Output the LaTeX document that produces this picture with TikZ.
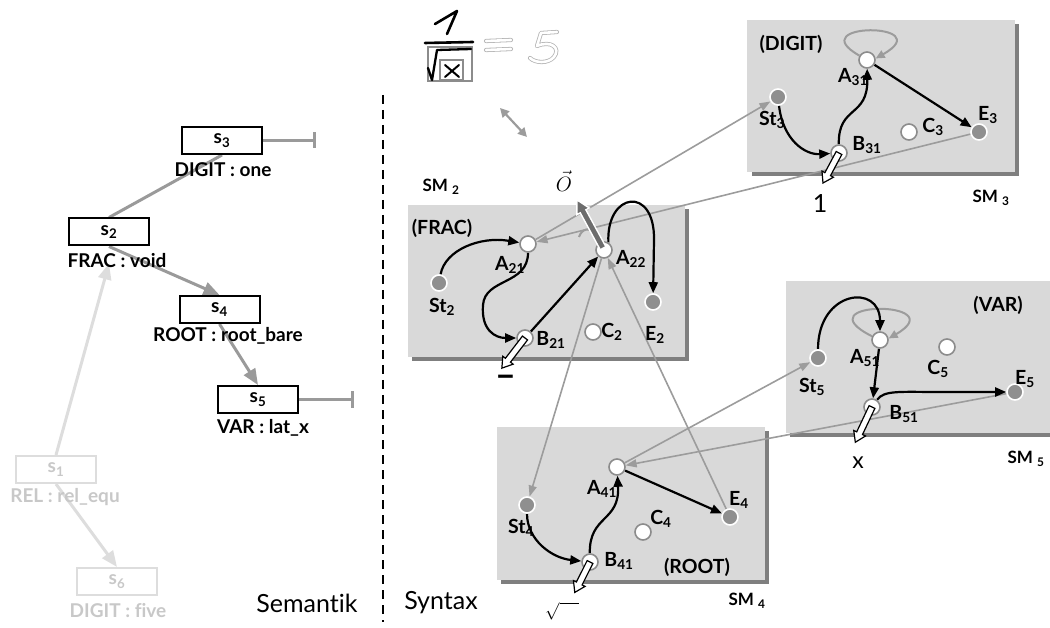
\documentclass[tikz,border=0pt]{standalone}
\usepackage{fontspec}
\setmainfont{Lato}[Ligatures=NoCommon]
\usetikzlibrary{arrows.meta,calc}
\definecolor{tgray}{HTML}{9A9A9A}
\definecolor{lgray}{HTML}{DDDDDD}
\definecolor{ltext}{HTML}{C8C8C8}
\definecolor{cgray}{HTML}{9C9C9C}
\definecolor{sgray}{HTML}{8F8F8F}
\definecolor{bgray}{HTML}{8C8C8C}
\definecolor{boxg}{HTML}{D9D9D9}
\definecolor{shad}{HTML}{7F7F7F}
\definecolor{ogray}{HTML}{6D6D6D}
\definecolor{fgray}{HTML}{B4B4B4}
\pgfdeclarelayer{bg}
\pgfdeclarelayer{mid}
\pgfdeclarelayer{fg}
\pgfsetlayers{bg,mid,main,fg}
\newcommand{\lbsub}[2]{#1\textsubscript{#2}}
\newcommand{\hollowarr}[3]{%
  \begin{scope}[shift={(#1)},rotate=#2]
    \draw[hollow] (0,-3.2)--({#3-10},-3.2)--({#3-10},-6.5)--(#3,0)--({#3-10},6.5)--({#3-10},3.2)--(0,3.2)--cycle;
  \end{scope}}
\begin{document}
\begin{tikzpicture}[x=1pt,y=-1pt,
  sbox/.style={draw=black,line width=2pt,fill=white,minimum width=80pt,minimum height=27pt,inner sep=0pt,font=\bfseries\fontsize{19}{19}\selectfont},
  sboxl/.style={sbox,draw=lgray,text=ltext},
  tlbl/.style={inner sep=0pt,font=\bfseries\fontsize{19}{19}\selectfont},
  tlbll/.style={tlbl,text=ltext},
  tline/.style={draw=tgray,line width=3pt},
  tarr/.style={tline,-{Triangle[length=16pt,width=13pt]}},
  tarrl/.style={tarr,draw=lgray},
  wst/.style={circle,draw=bgray,line width=1.6pt,fill=white,minimum size=16pt,inner sep=0pt},
  gst/.style={circle,draw=white,line width=1.6pt,fill=sgray,minimum size=16pt,inner sep=0pt},
  slbl/.style={inner sep=0pt,font=\bfseries\fontsize{19.5}{19.5}\selectfont},
  smlbl/.style={inner sep=0pt,font=\bfseries\fontsize{17}{17}\selectfont},
  garr/.style={draw=cgray,line width=1.6pt,-{Triangle[length=11pt,width=8pt]}},
  barr/.style={draw=black,line width=2.2pt,-{Triangle[length=11pt,width=9pt]}},
  loopg/.style={draw=cgray,line width=2pt,-{Triangle[length=9pt,width=8pt]}},
  hollow/.style={draw=black,line width=1.2pt,fill=white},
  outl/.style={draw=fgray,double=white,double distance=2.6pt,line width=0.8pt,line cap=round,line join=round},
  big/.style={inner sep=0pt,font=\fontsize{25}{25}\selectfont},
]
\useasboundingbox (0,0) rectangle (1050,628);

% ---------------- boxes (background) ----------------
\begin{pgfonlayer}{bg}
  \fill[shad] (752,24) rectangle (1019,176);
  \fill[boxg] (747,20) rectangle (1015,172);
  \fill[shad] (412,209) rectangle (689,361);
  \fill[boxg] (408,205) rectangle (685,357);
  \fill[shad] (790,285) rectangle (1050,437);
  \fill[boxg] (786,281) rectangle (1050,433);
  \fill[shad] (501,431) rectangle (769,584);
  \fill[boxg] (497,427) rectangle (765,580);
\end{pgfonlayer}

% ---------------- left: semantic tree ----------------
\node[sbox] (s3) at (222,140.5) {s\textsubscript{3}};
\node[tlbl] (l3) at (223,170) {DIGIT : one};
\node[sbox] (s2) at (109,232) {s\textsubscript{2}};
\node[tlbl] (l2) at (117,261) {FRAC : void};
\node[sbox] (s4) at (219.5,309.5) {s\textsubscript{4}};
\node[tlbl] (l4) at (228,336) {ROOT : root\_bare};
\node[sbox] (s5) at (258,399.5) {s\textsubscript{5}};
\node[tlbl] (l5) at (263,428) {VAR : lat\_x};
\node[sboxl] (s1) at (56,469.5) {s\textsubscript{1}};
\node[tlbll] (l1) at (65,497) {REL : rel\_equ};
\node[sboxl] (s6) at (117,581.5) {s\textsubscript{6}};
\node[tlbll] (l6) at (118,611) {DIGIT : five};
\coordinate (bar3) at (316,140.5);
\coordinate (bar5) at (354,399.5);

\begin{pgfonlayer}{mid}
  \draw[tline] (s2.north) -- (s3.south);
  \draw[tarr] (s2.south) -- (s4.north);
  \draw[tarr] (s4.south) -- (s5.north);
  \draw[tarrl] (s1.north) -- ([yshift=-17pt]s2.south);
  \draw[tarrl] (s1.south) -- (s6.north);
  \draw[tline,-{Bar[width=16pt]}] (s3.east) -- (bar3);
  \draw[tline,-{Bar[width=16pt]}] (s5.east) -- (bar5);
\end{pgfonlayer}

\node[big] (sem) at (307,603) {Semantik};
\node[big] (syn) at (441,603) {Syntax};

% dashed divider
\coordinate (dtop) at (383,95);
\coordinate (dbot) at (383,622);
\draw[black,line width=2pt,dash pattern=on 9pt off 6pt] (dtop) -- (dbot);

% ---------------- handwritten formula ----------------
\draw[black,line width=2.6pt,line cap=round,line join=round] (435,24) -- (457,11) -- (447,34);
\draw[black,line width=2.6pt,line cap=round] (425,43) -- (473,42);
\draw[bgray,line width=1.8pt] (428,47) rectangle (472,81);
\draw[bgray,line width=1.5pt] (440,60) rectangle (463,80);
\draw[black,line width=2.3pt,line cap=round,line join=round] (428,68) -- (432,80) -- (437,50) -- (471,49);
\draw[black,line width=2pt,line cap=round] (445,65) -- (459,77) (445,77) -- (459,65);
\draw[outl] (486,41) -- (511,40);
\draw[outl] (486,50) -- (511,49);
\draw[outl] (557,32) -- (541,33) -- (537,46) .. controls (551,40) and (561,48) .. (554,57) .. controls (548,64) and (535,63) .. (530,58);
\coordinate (da1) at (500,108);
\coordinate (da2) at (527,137);
\draw[draw=cgray,line width=2.2pt,{Triangle[length=9pt,width=9pt]}-{Triangle[length=9pt,width=9pt]}] (da1) -- (da2);

% ---------------- state nodes ----------------
% SM3
\node[gst] (St3) at (778,97) {};
\node[wst] (A31) at (867,60) {};
\node[wst] (B31) at (839,153) {};
\node[wst] (C3) at (909,132) {};
\node[gst] (E3) at (979,132) {};
% SM2
\node[wst] (A21) at (528,244) {};
\node[gst] (St2) at (439,283) {};
\node[wst] (A22) at (604,250) {};
\node[wst] (B21) at (525,338) {};
\node[wst] (C2) at (593,332) {};
\node[gst] (E2) at (653,302) {};
% SM5
\node[gst] (St5) at (818,358) {};
\node[wst] (A51) at (880,340) {};
\node[wst] (C5) at (947,347) {};
\node[gst] (E5) at (1015,392) {};
\node[wst] (B51) at (872,407) {};
% SM4
\node[gst] (St4) at (527,505) {};
\node[wst] (A41) at (617,467) {};
\node[wst] (C4) at (643,532) {};
\node[gst] (E4) at (730,517) {};
\node[wst] (B41) at (590,562) {};

% ---------------- connectors ----------------
\begin{pgfonlayer}{mid}
  % gray inter-machine connectors
  \draw[garr] (A21) -- (St3);
  \draw[garr] (E3) -- (A21);
  \draw[garr] (A22) -- (St4);
  \draw[garr] (E4) -- (A22);
  \draw[garr] (A41) -- (St5);
  \draw[garr] (E5) -- (A41);
  % self loops
  \draw[loopg] (A31.150) .. controls (800,22) and (940,22) .. (A31.10);
  \draw[loopg] (A51.155) .. controls (800,300) and (955,300) .. (A51.10);
  \draw[cgray,line width=2pt] (579,237) .. controls (582,228) and (590,228) .. (594,232);
  % SM3
  \draw[barr] (St3) .. controls (783,140) and (805,155) .. (B31);
  \draw[barr] (B31) .. controls (838,105) and (868,118) .. (A31);
  \draw[barr] (A31) -- (E3);
  % SM2
  \draw[barr] (St2) .. controls (445,250) and (480,236) .. (A21);
  \draw[barr] (A21) .. controls (528,285) and (485,278) .. (483,305) .. controls (481,330) and (495,338) .. (B21);
  \draw[barr] (B21) -- (A22);
  \draw[barr] (A22.60) .. controls (606,192) and (655,185) .. (654,240) -- (E2);
  % SM4
  \draw[barr] (St4) .. controls (527,540) and (552,558) .. (B41);
  \draw[barr] (B41) .. controls (589,515) and (620,522) .. (A41);
  \draw[barr] (A41) -- (E4);
  % SM5
  \draw[barr] (St5) .. controls (818,290) and (880,283) .. (A51);
  \draw[barr] (A51) -- (B51);
  \draw[barr] (B51) .. controls (884,390) and (900,392) .. (940,392) -- (E5);
\end{pgfonlayer}

% ---------------- output arrows ----------------
\begin{pgfonlayer}{fg}
  \hollowarr{B31}{241.9}{34}
  \hollowarr{B21}{232.5}{38}
  \hollowarr{B41}{243.4}{34}
  \hollowarr{B51}{244.7}{39}
  \begin{scope}[shift={(A22)},rotate=118.4]
    \draw[fill=ogray,draw=white,line width=1.4pt] (2,-3.2)--(44,-3.2)--(44,-7)--(57,0)--(44,7)--(44,3.2)--(2,3.2)--cycle;
  \end{scope}
\end{pgfonlayer}

% ---------------- labels ----------------
\node[slbl] (lDIGIT) at (791,44) {(DIGIT)};
\node[slbl] (lA31) at (853,77) {\lbsub{A}{31}};
\node[slbl] (lSt3) at (772,120) {\lbsub{St}{3}};
\node[slbl] (lB31) at (867,145) {\lbsub{B}{31}};
\node[slbl] (lC3) at (933,127) {\lbsub{C}{3}};
\node[slbl] (lE3) at (988,115) {\lbsub{E}{3}};
\node[smlbl] (lSM3) at (991,198) {SM \textsubscript{3}};

\node[smlbl] (lSM2) at (441,187) {SM \textsubscript{2}};
\node[slbl] (lFRAC) at (442,228) {(FRAC)};
\node[slbl] (lA21) at (510,265) {\lbsub{A}{21}};
\node[slbl] (lSt2) at (442,307) {\lbsub{St}{2}};
\node[slbl] (lB21) at (551,340) {\lbsub{B}{21}};
\node[slbl] (lC2) at (612,332) {\lbsub{C}{2}};
\node[slbl] (lE2) at (655,335) {\lbsub{E}{2}};
\node[slbl] (lA22) at (631,259) {\lbsub{A}{22}};
\node[inner sep=0pt,font=\fontsize{22}{22}\selectfont] (lO) at (564,181) {$\vec{O}$};

\node[slbl] (lVAR) at (998,305) {(VAR)};
\node[slbl] (lA51) at (865,358) {\lbsub{A}{51}};
\node[slbl] (lSt5) at (812,387) {\lbsub{St}{5}};
\node[slbl] (lC5) at (938,369) {\lbsub{C}{5}};
\node[slbl] (lE5) at (1025,379) {\lbsub{E}{5}};
\node[slbl] (lB51) at (904,414) {\lbsub{B}{51}};
\node[smlbl] (lSM5) at (1026,459) {SM \textsubscript{5}};

\node[slbl] (lA41) at (602,489) {\lbsub{A}{41}};
\node[slbl] (lSt4) at (521,528) {\lbsub{St}{4}};
\node[slbl] (lC4) at (661,519) {\lbsub{C}{4}};
\node[slbl] (lE4) at (739,500) {\lbsub{E}{4}};
\node[slbl] (lB41) at (619,561) {\lbsub{B}{41}};
\node[slbl] (lROOT) at (697,567) {(ROOT)};
\node[smlbl] (lSM4) at (747,601) {SM \textsubscript{4}};

% symbols output by the machines
\node[inner sep=0pt,font=\fontsize{25}{25}\selectfont] (o1) at (820,204) {1};
\node[inner sep=0pt,font=\fontsize{23}{23}\selectfont] (ox) at (858,463) {x};
\node[inner sep=0pt,font=\bfseries\fontsize{36}{36}\selectfont] (ominus) at (506,381) {–};
\node[inner sep=0pt,font=\fontsize{19}{19}\selectfont] (osqrt) at (562,611) {$\sqrt{\hphantom{xx}}$};
\end{tikzpicture}
\end{document}
